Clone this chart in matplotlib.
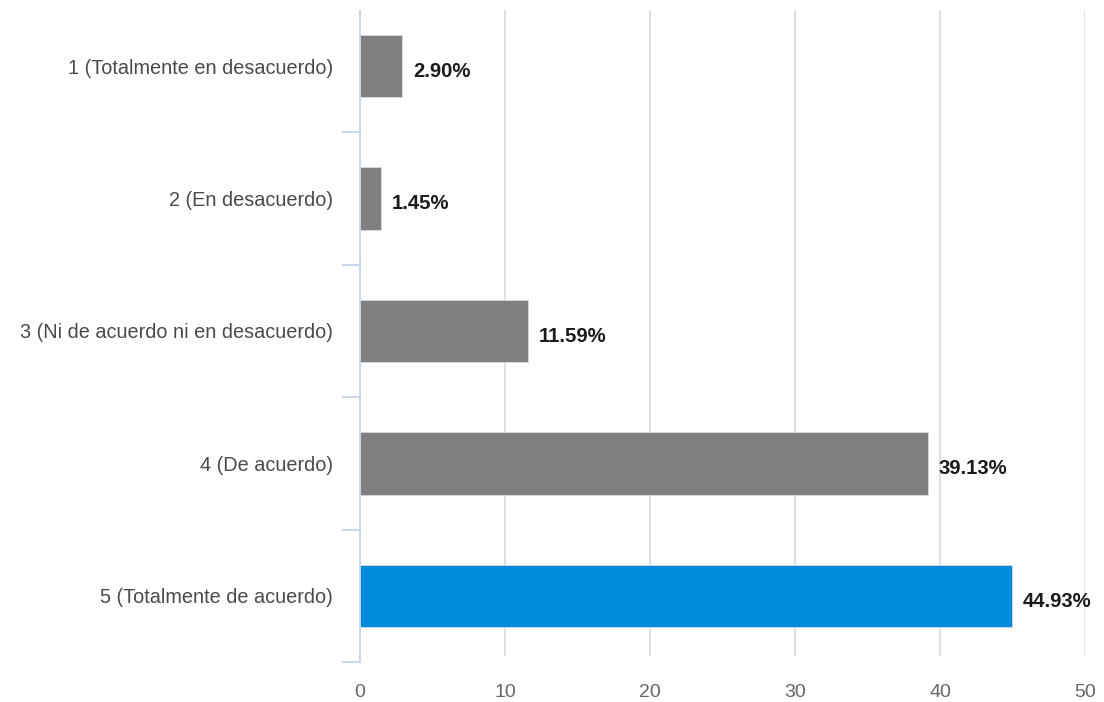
import numpy as np
import matplotlib.pyplot as plt

plt.rcParams['font.family'] = ['Liberation Sans', 'DejaVu Sans']

categorias = ["1 (Totalmente en desacuerdo)", "2 (En desacuerdo)",
              "3 (Ni de acuerdo ni en desacuerdo)", "4 (De acuerdo)",
              "5 (Totalmente de acuerdo)"]
porcentajes = [2.90, 1.45, 11.59, 39.13, 44.93]
colores = ["#7f7f7f", "#7f7f7f", "#7f7f7f", "#7f7f7f", "#008ad9"]

fig = plt.figure(figsize=(11.04, 7.02), dpi=100)
ax = fig.add_axes([0.326, 0.057, 0.657, 0.943])

y = np.arange(len(categorias))
ax.barh(y, porcentajes, height=0.47, color=colores, edgecolor="#d0dcea",
        linewidth=0.6, zorder=3)

# etiquetas con el valor al final de cada barra
for yi, v in zip(y, porcentajes):
    ax.text(v + 0.75, yi + 0.04, "%.2f%%" % v, va="center", ha="left",
            fontsize=14.6, fontweight="bold", color="#1a1a1a")

ax.set_ylim(len(categorias) - 0.5, -0.5)
ax.set_xlim(0, 50)
ax.set_xticks([0, 10, 20, 30, 40, 50])
ax.set_yticks(y)
ax.set_yticklabels(categorias)

# cuadricula vertical
for xv in [10, 20, 30, 40, 50]:
    ax.plot([xv, xv], [4.45, -0.42], color="#dcdcdc", lw=1.3, zorder=1)

for s in ["top", "right", "bottom"]:
    ax.spines[s].set_visible(False)
ax.spines["left"].set_color("#c9d8e8")
ax.spines["left"].set_linewidth(1.5)
ax.spines["left"].set_bounds(4.5, -0.42)

ax.tick_params(axis="y", length=0, pad=19.5, labelsize=14.3, labelcolor="#4a4a4a")
ax.tick_params(axis="x", length=0, pad=16, labelsize=14, labelcolor="#666666")

# marcas entre categorias a la izquierda del eje
for b in np.arange(0.5, len(categorias), 1.0):
    ax.plot([-1.15, 0], [b, b], color="#c9d8e8", lw=1.5, clip_on=False, zorder=2)

fig.savefig("out.png", dpi=100)
